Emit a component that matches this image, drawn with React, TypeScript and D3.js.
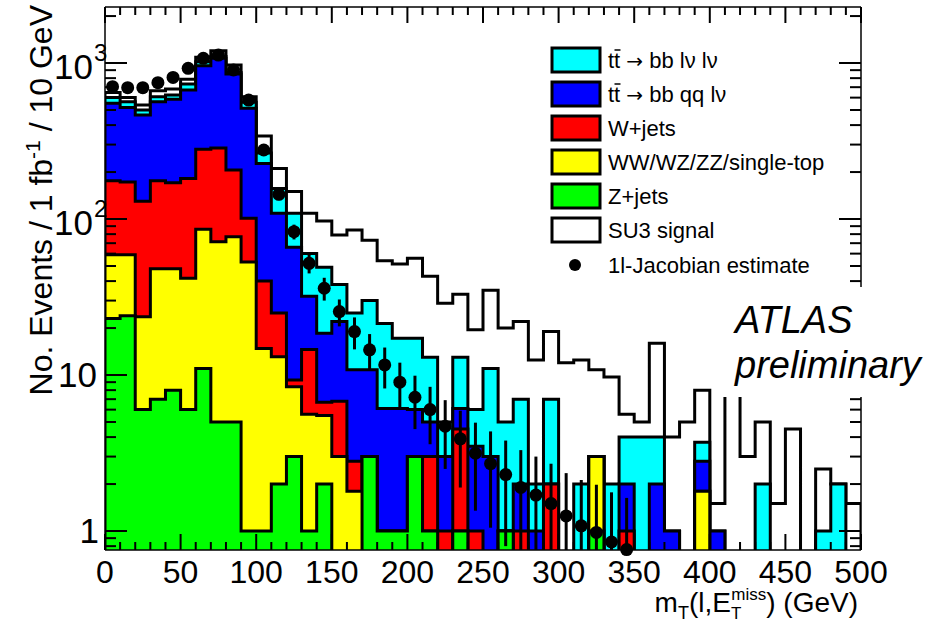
import React from 'react';
import * as d3 from 'd3';

// bin lower edges (GeV), 10 GeV wide
const binLow = [0,10,20,30,40,50,60,70,80,90,100,110,120,130,140,150,160,170,180,190,200,210,220,230,240,250,260,270,280,290,300,310,320,330,340,350,360,370,380,390,400,410,420,430,440,450,460,470,480,490];

// stacked components (events / 1 fb^-1 / 10 GeV)
const zJets = [23,24,6,7,8,6,11,5,5,1,1,2,3,1,2,0,0,3,1,1,3,1,0,1,0,0,1,0,0,0,0,0,1,0,0,0,0,0,0,0,0,0,0,0,0,0,0,0,0,0];
const diboson = [36,35,17.6,41,40,35.7,75,66.6,72,52,13.8,11.1,5.4,4.6,3.5,3.0,1.8,0,0,0,0,0,0,0,0,0,0,0,0,0,0,0,2,0,0,0,0,0,0,1.8,0,0,0,0,0,0,0,0,0,0];
const wJets = [117,114,106.4,128,123,140.3,194,213.4,129,48,25.2,11.9,0.9,9,1.2,3.8,1.0,0,0,0,0,2,1,3.5,1,0,0,1,0,2,0,0,0,0,1,0,0,0,0,0,0,0,0,0,0,0,0,0,0,0];
const ttSemi = [376,345,334,389,414,489,681,787,644,412,187,84,56.7,17.4,11.8,15.2,8.0,7.8,5.1,5.1,3,2,2,1.6,2.5,3,0,1,1,0,0,0,0,0,1,0,2,1,0,1.0,1,0,0,0,0,0,0,0,0,0];
const ttDi = [48,47,36,43,39,62,58,28,20,47,38,48,43,28,30.5,16,14.2,19.2,15.3,11.1,11.2,8,2,6.9,2.5,8,4,5,1,5,0,2,0,2,2,4,2,0,0,0.9,0,0,0,2,0,0,0,1,2,0];
const su3 = [46,35,38,57,57,53,68,99,101,48,75,54,41,49,48,41,60,43,32.6,34.3,38.8,30,23.8,20,13.5,24,15,15,10.5,12,12,10.5,7.8,7.7,1.6,1.0,12,3,5,4.3,0.5,12,3,3,1.5,4.5,0,1.5,0,1.5];

// 1l-Jacobian estimate (points, first 35 bins) and its errors
const estimate = [705,695,695,748,809,925,1072,1125,902,579,277,144,83,52,36,25.5,19,14.5,11.6,9.0,7.2,6.0,4.7,3.9,3.15,2.7,2.3,1.9,1.7,1.5,1.25,1.08,0.98,0.85,0.76];
const estimateErr = [27,26,26,27,28,30,33,34,30,24,17,12,9,7.2,6,5,4.4,3.8,3.4,3.0,2.7,2.4,2.2,2.0,1.8,1.65,1.5,1.4,1.3,1.2,1.1,1.04,1.0,0.92,0.87];

const seriesKeys = ['zjets','diboson','wjets','ttsemi','ttdi','su3'];
const seriesColors = ['#00ff00','#ffff00','#ff0000','#0000ff','#00ffff','#ffffff'];

const xTicksMajor = [0,50,100,150,200,250,300,350,400,450,500];
const yTicksMajor = [1,10,100,1000];

const W = 929, H = 624;
const X0 = 105, X1 = 861, YT = 7, YB = 550;
const FONT = '"Liberation Sans", Arial, Helvetica, sans-serif';
const ARROWFONT = '"DejaVu Sans", sans-serif';

export default function App() {
  const x = d3.scaleLinear().domain([0, 500]).range([X0, X1]);
  const y = d3.scaleLog().domain([0.7556, 2286]).range([YB, YT]);

  const table = binLow.map((b, i) => ({
    bin: b,
    zjets: zJets[i], diboson: diboson[i], wjets: wJets[i],
    ttsemi: ttSemi[i], ttdi: ttDi[i], su3: su3[i],
  }));
  const stack = d3.stack<any>().keys(seriesKeys)(table);

  const yy = (v: number) => (v > 0.01 ? y(v) : YB + 10);
  const stepPath = (tops: number[]) => {
    let p = `M${x(0)},${YB + 10}`;
    tops.forEach((v, i) => {
      const py = yy(v);
      p += `L${x(binLow[i])},${py}L${x(binLow[i] + 10)},${py}`;
    });
    p += `L${x(500)},${YB + 10}Z`;
    return p;
  };

  const yMinor: number[] = [];
  [0.1, 1, 10, 100, 1000].forEach(d => {
    for (let k = 2; k <= 9; k++) {
      const v = d * k;
      if (v > 0.7556 && v < 2286 && !yTicksMajor.includes(v)) yMinor.push(v);
    }
  });
  const xMinor = d3.range(0, 501, 10).filter(v => v % 50 !== 0);

  const layers = stack.map((s, i) => ({ key: seriesKeys[i], color: seriesColors[i], tops: s.map(d => d[1]) }));

  const legendRows = [
    { color: '#00ffff', y: 60 },
    { color: '#0000ff', y: 94 },
    { color: '#ff0000', y: 128 },
    { color: '#ffff00', y: 162 },
    { color: '#00ff00', y: 196 },
    { color: '#ffffff', y: 230 },
  ];
  const legX = 552, legTextX = 608, fsLeg = 22;
  const paveTop = 287, paveBot = 397;
  const rightTickOk = (py: number) => py < paveTop || py > paveBot;

  return (
    <svg width={W} height={H} style={{ position: 'absolute', left: 0, top: 0, background: '#fff' }} fontFamily={FONT}>
      <defs>
        <clipPath id="frame">
          <rect x={X0} y={YT} width={X1 - X0} height={YB - YT} />
        </clipPath>
      </defs>
      <rect x={0} y={0} width={W} height={H} fill="#fff" />
      <g clipPath="url(#frame)">
        {layers.slice().reverse().map(l => (
          <path key={l.key} d={stepPath(l.tops)} fill={l.color} stroke="#000" strokeWidth={3} strokeLinejoin="miter" />
        ))}
        {estimate.map((v, i) => {
          const cx = x(binLow[i] + 5);
          const lo = v - estimateErr[i];
          return (
            <line key={'e' + i} x1={cx} x2={cx} y1={yy(v + estimateErr[i])} y2={lo > 0.01 ? y(lo) : YB + 10} stroke="#000" strokeWidth={3} />
          );
        })}
      </g>
      {estimate.map((v, i) => (
        <circle key={'p' + i} cx={x(binLow[i] + 5)} cy={y(v)} r={6.5} fill="#000" />
      ))}

      {/* ATLAS label pave */}
      <rect x={722} y={paveTop} width={207} height={paveBot - paveTop} fill="#fff" />
      <text x={735} y={333} fontSize={38} fontStyle="italic">ATLAS</text>
      <text x={735} y={378} fontSize={38} fontStyle="italic">preliminary</text>

      {/* frame */}
      <line x1={X0} x2={X0} y1={YT} y2={YB} stroke="#000" strokeWidth={1.5} />
      <line x1={X0} x2={X1} y1={YB} y2={YB} stroke="#000" strokeWidth={1.5} />
      <line x1={X0} x2={X1} y1={YT} y2={YT} stroke="#000" strokeWidth={1.5} />
      <line x1={X1} x2={X1} y1={YT} y2={paveTop} stroke="#000" strokeWidth={1.5} />
      <line x1={X1} x2={X1} y1={paveBot} y2={YB} stroke="#000" strokeWidth={1.5} />

      {/* x ticks */}
      {xTicksMajor.map(v => (
        <g key={'xM' + v}>
          <line x1={x(v)} x2={x(v)} y1={YB} y2={YB - 16} stroke="#000" strokeWidth={2} />
          <line x1={x(v)} x2={x(v)} y1={YT} y2={YT + 16} stroke="#000" strokeWidth={2} />
          <text x={x(v)} y={583} fontSize={32} textAnchor="middle">{v}</text>
        </g>
      ))}
      {xMinor.map(v => (
        <g key={'xm' + v}>
          <line x1={x(v)} x2={x(v)} y1={YB} y2={YB - 8} stroke="#000" strokeWidth={2} />
          <line x1={x(v)} x2={x(v)} y1={YT} y2={YT + 8} stroke="#000" strokeWidth={2} />
        </g>
      ))}
      {/* y ticks */}
      {yTicksMajor.map(v => (
        <g key={'yM' + v}>
          <line x1={X0} x2={X0 + 22} y1={y(v)} y2={y(v)} stroke="#000" strokeWidth={2} />
          {rightTickOk(y(v)) && <line x1={X1} x2={X1 - 22} y1={y(v)} y2={y(v)} stroke="#000" strokeWidth={2} />}
        </g>
      ))}
      {yMinor.map(v => (
        <g key={'ym' + v}>
          <line x1={X0} x2={X0 + 11} y1={y(v)} y2={y(v)} stroke="#000" strokeWidth={2} />
          {rightTickOk(y(v)) && <line x1={X1} x2={X1 - 11} y1={y(v)} y2={y(v)} stroke="#000" strokeWidth={2} />}
        </g>
      ))}
      <text x={99} y={y(1) + 12} fontSize={35} textAnchor="end">1</text>
      <text x={97} y={y(10) + 12} fontSize={35} textAnchor="end">10</text>
      <text x={93} y={y(100) + 16} fontSize={35} textAnchor="end">10</text>
      <text x={94} y={y(100) - 2} fontSize={24}>2</text>
      <text x={93} y={y(1000) + 16} fontSize={35} textAnchor="end">10</text>
      <text x={94} y={y(1000) - 2} fontSize={24}>3</text>

      {/* axis titles */}
      <text transform="translate(52,5) rotate(-90)" fontSize={32} textAnchor="end">
        No. Events / 1 fb<tspan dy={-12} fontSize={21}>-1</tspan><tspan dy={12}> / 10 GeV</tspan>
      </text>
      <text x={858} y={612} fontSize={28} textAnchor="end">
        m<tspan dy={7} fontSize={18}>T</tspan><tspan dy={-7}>(l,E</tspan><tspan dy={7} fontSize={17}>T</tspan><tspan dx={-10} dy={-19} fontSize={17}>miss</tspan><tspan dy={12}>) (GeV)</tspan>
      </text>

      {/* legend */}
      {legendRows.map((r, i) => (
        <rect key={'lg' + i} x={legX} y={r.y - 12} width={48} height={24} fill={r.color} stroke="#000" strokeWidth={3} />
      ))}
      <g fontSize={fsLeg}>
        <text x={legTextX} y={68}>tt <tspan fontFamily={ARROWFONT} fontSize={20}>→</tspan> bb lν lν</text>
        <line x1={614.5} x2={620.5} y1={50} y2={50} stroke="#000" strokeWidth={1.5} />
        <text x={legTextX} y={102}>tt <tspan fontFamily={ARROWFONT} fontSize={20}>→</tspan> bb qq lν</text>
        <line x1={614.5} x2={620.5} y1={84} y2={84} stroke="#000" strokeWidth={1.5} />
        <text x={legTextX} y={136}>W+jets</text>
        <text x={legTextX} y={170}>WW/WZ/ZZ/single-top</text>
        <text x={legTextX} y={204}>Z+jets</text>
        <text x={legTextX} y={238}>SU3 signal</text>
        <circle cx={575} cy={265} r={6} fill="#000" />
        <text x={legTextX} y={273}>1l-Jacobian estimate</text>
      </g>
    </svg>
  );
}
